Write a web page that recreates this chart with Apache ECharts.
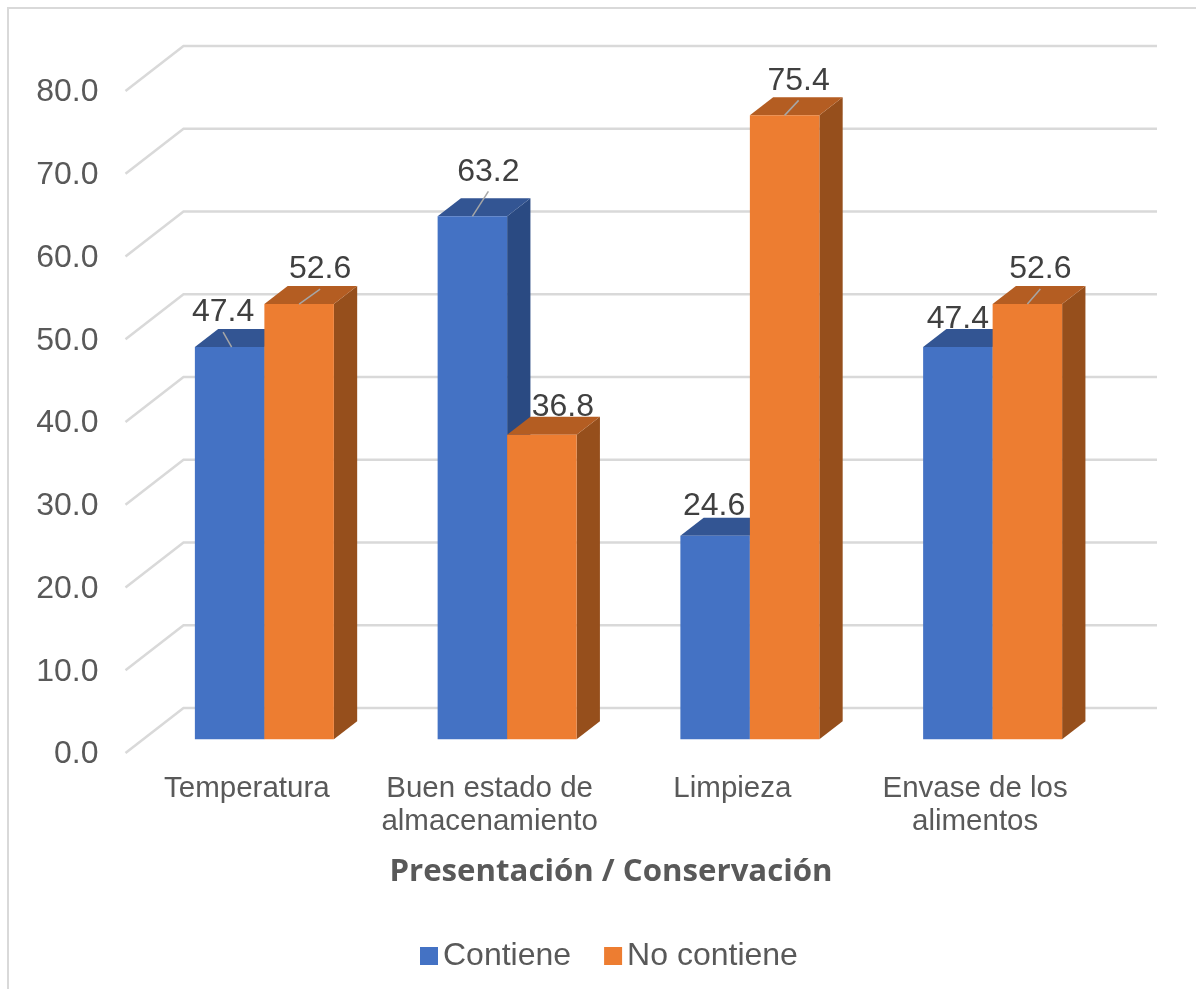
<!DOCTYPE html>
<html><head><meta charset="utf-8">
<style>html,body{margin:0;padding:0;background:#fff}#c{width:1196px;height:989px}</style>
<script src="https://cdn.jsdelivr.net/npm/echarts@6/dist/echarts.min.js"></script>
</head><body><div id="c"></div>
<script>
const categories = ['Temperatura', 'Buen estado de\nalmacenamiento', 'Limpieza', 'Envase de los\nalimentos'];
const contiene = [47.4, 63.2, 24.6, 47.4];
const noContiene = [52.6, 36.8, 75.4, 52.6];
const wallTicks = [0, 10, 20, 30, 40, 50, 60, 70, 80];

// layout (pixels)
const WALL = [58, -45], WALL_RIGHT_EXTRA = 2.5, BASE = [17.5, -13.7], DEPTH = [23.3, -18];
const BAR_RATIO = 0.2863;
const LABEL_SHIFT = {
  Contiene: [[-6.5, -34.5, 1], [16, -44.5, 1], [-1, -29.5, 0], [0, -27.5, 0]],
  'No contiene': [[21, -34.5, 1], [21, -27.5, 0], [14, -34.5, 1], [13, -34.5, 1]]
};

function barShape(api, sign) {
  const c = api.coord([api.value(0), api.value(1)]);
  const b = api.coord([api.value(0), 0]);
  const w = api.size([1, 0])[0] * BAR_RATIO;
  const x0 = c[0] + BASE[0] + (sign < 0 ? -w : 0), x1 = x0 + w;
  return { x0, x1, top: c[1] + BASE[1], bot: b[1] + BASE[1] };
}
function barRender(sign, front, topC, sideC) {
  return function (params, api) {
    const s = barShape(api, sign);
    const [dx, dy] = DEPTH;
    return { type: 'group', children: [
      { type: 'polygon', shape: { points: [[s.x1, s.top], [s.x1 + dx, s.top + dy], [s.x1 + dx, s.bot + dy], [s.x1, s.bot]] }, style: { fill: sideC } },
      { type: 'polygon', shape: { points: [[s.x0, s.top], [s.x0 + dx, s.top + dy], [s.x1 + dx, s.top + dy], [s.x1, s.top]] }, style: { fill: topC } },
      { type: 'rect', shape: { x: s.x0, y: s.top, width: s.x1 - s.x0, height: s.bot - s.top }, style: { fill: front } }
    ] };
  };
}
function labelRender(sign, shifts) {
  return function (params, api) {
    const s = barShape(api, sign);
    const cx = (s.x0 + s.x1) / 2;
    const sh = shifts[params.dataIndex];
    const tx = cx + sh[0], ty = s.top + sh[1];
    const kids = [{ type: 'text', z2: 5, style: { x: tx, y: ty, text: api.value(1).toFixed(1), fill: '#404040',
      font: '32px "Liberation Sans", Arial, sans-serif', textAlign: 'center', textVerticalAlign: 'middle' } }];
    if (sh[2]) kids.push({ type: 'line', shape: { x1: tx, y1: ty + 19.5, x2: cx + (sh[0] < 0 ? 2 : 0), y2: s.top },
      style: { stroke: '#A6A6A6', lineWidth: 1.5 } });
    return { type: 'group', children: kids };
  };
}
function wallRender(params, api) {
  const band = api.size([1, 0])[0];
  const v = api.value(0);
  const left = api.coord([0, v]), right = api.coord([categories.length - 1, v]);
  const x0 = left[0] - band / 2, x1 = right[0] + band / 2 + WALL_RIGHT_EXTRA, y = left[1];
  return { type: 'polyline', shape: { points: [[x0, y], [x0 + WALL[0], y + WALL[1]], [x1 + WALL[0], y + WALL[1]]] },
    style: { stroke: '#D9D9D9', lineWidth: 2.5, fill: 'none' } };
}
function pairs(vals) { return vals.map((v, i) => [i, v]); }

const chart = echarts.init(document.getElementById('c'), null, { renderer: 'canvas' });
chart.setOption({
  animation: false,
  backgroundColor: '#ffffff',
  graphic: [{ type: 'polyline', silent: true, shape: { points: [[8, 989], [8, 8], [1196, 8]] },
    style: { stroke: '#D9D9D9', lineWidth: 2, fill: 'none' } }],
  grid: { left: 125.5, top: 91, width: 971, height: 662 },
  legend: { left: 415, top: 935, itemWidth: 18, itemHeight: 18, itemGap: 33, icon: 'rect',
    data: ['Contiene', 'No contiene'],
    textStyle: { fontFamily: '"Liberation Sans", Arial, sans-serif', fontSize: 32, color: '#595959' } },
  xAxis: { type: 'category', data: categories,
    axisLine: { show: false }, axisTick: { show: false }, splitLine: { show: false },
    axisLabel: { color: '#595959', fontFamily: '"Liberation Sans", Arial, sans-serif', fontSize: 29.5, lineHeight: 33, margin: 19, interval: 0 },
    name: 'Presentación / Conservación', nameLocation: 'center', nameGap: 104,
    nameTextStyle: { fontFamily: '"Open Sans", sans-serif', fontWeight: 'bold', fontSize: 31.2, color: '#595959' } },
  yAxis: { type: 'value', min: 0, max: 80, interval: 10,
    axisLine: { show: false }, axisTick: { show: false }, splitLine: { show: false },
    axisLabel: { color: '#595959', fontFamily: '"Liberation Sans", Arial, sans-serif', fontSize: 32, margin: 27, verticalAlign: 'top', lineHeight: 3,
      formatter: v => v.toFixed(1) } },
  series: [
    { type: 'custom', name: 'wall', silent: true, z: 1, data: wallTicks.map(v => [v]), encode: { y: 0 }, renderItem: wallRender, clip: false },
    { type: 'custom', name: 'Contiene', z: 2, itemStyle: { color: '#4472C4' }, data: pairs(contiene), encode: { x: 0, y: 1 }, clip: false,
      renderItem: barRender(-1, '#4472C4', '#335593', '#2A4A82') },
    { type: 'custom', name: 'No contiene', z: 3, itemStyle: { color: '#ED7D31' }, data: pairs(noContiene), encode: { x: 0, y: 1 }, clip: false,
      renderItem: barRender(1, '#ED7D31', '#B45D22', '#964F1C') },
    { type: 'custom', name: 'lblA', silent: true, z: 4, data: pairs(contiene), encode: { x: 0, y: 1 }, clip: false, renderItem: labelRender(-1, LABEL_SHIFT['Contiene']) },
    { type: 'custom', name: 'lblB', silent: true, z: 4, data: pairs(noContiene), encode: { x: 0, y: 1 }, clip: false, renderItem: labelRender(1, LABEL_SHIFT['No contiene']) }
  ]
});
</script></body></html>
